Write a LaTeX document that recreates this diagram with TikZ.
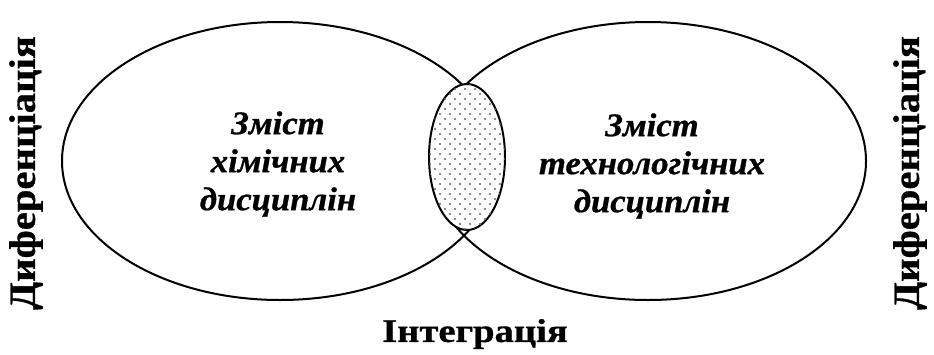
\documentclass[tikz,border=0pt]{standalone}
\usepackage{fontspec}
\setmainfont{Liberation Serif}[BoldFeatures={FakeBold=0.8},BoldItalicFeatures={FakeBold=0.8}]
\usepackage{tikz}
\usetikzlibrary{backgrounds,shapes,shapes.geometric,patterns}
\pgfdeclarelayer{edgelayer}
\pgfdeclarelayer{nodelayer}
\pgfsetlayers{background,edgelayer,nodelayer,main}
\pgfdeclarepatternformonly{sparse dots}{\pgfpoint{-1pt}{-1pt}}{\pgfpoint{11pt}{11pt}}{\pgfpoint{10pt}{10pt}}{
	\pgfpathcircle{\pgfpoint{0pt}{0pt}}{1.1pt}
	\pgfpathcircle{\pgfpoint{5pt}{5pt}}{1.1pt}
	\pgfusepath{fill}
}
\tikzstyle{none}=[inner sep=0mm]
\tikzstyle{field}=[shape=ellipse,draw=black,line width=2pt,inner sep=0pt,minimum width=436pt,minimum height=278pt]
\tikzstyle{overlap}=[shape=ellipse,draw=black,line width=2pt,inner sep=0pt,minimum width=76pt,minimum height=146pt,fill=white,postaction={pattern=sparse dots,pattern color=black!60}]
\tikzstyle{content}=[none,align=center,xscale=1.05,font=\bfseries\itshape\fontsize{33}{38}\selectfont]
\tikzstyle{side}=[none,rotate=90,xscale=1.1,font=\bfseries\fontsize{37}{40}\selectfont]
\tikzstyle{bottom}=[none,xscale=1.17,font=\bfseries\fontsize{33}{40}\selectfont]

\begin{document}
\begin{tikzpicture}[x=1pt,y=-1pt]
	\useasboundingbox (0,0) rectangle (934,354);
	\begin{pgfonlayer}{edgelayer}
		\node [style=field] (chem) at (280, 161) {};
		\node [style=field] (tech) at (648, 161) {};
	\end{pgfonlayer}
	\begin{pgfonlayer}{nodelayer}
		\node [style=overlap] (integ) at (467, 157) {};
		\node [style=content] (chemtext) at (278, 164) {Зміст\\хімічних\\дисциплін};
		\node [style=content] (techtext) at (652, 166) {Зміст\\технологічних\\дисциплін};
		\node [style=side] (diffl) at (26, 173) {Диференціація};
		\node [style=side] (diffr) at (910, 173) {Диференціація};
		\node [style=bottom] (integtext) at (475, 334) {Інтеграція};
	\end{pgfonlayer}
\end{tikzpicture}
\end{document}
